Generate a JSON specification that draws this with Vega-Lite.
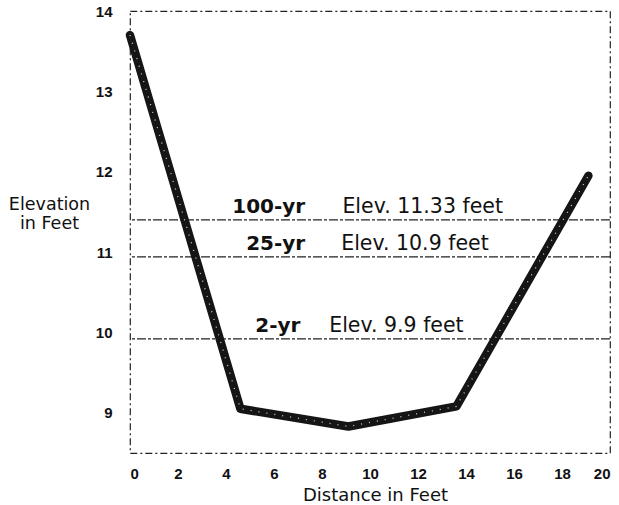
{
  "$schema": "https://vega.github.io/schema/vega-lite/v6.json",
  "width": 480,
  "height": 442,
  "autosize": "none",
  "padding": {"left": 130, "top": 11, "right": 9, "bottom": 52},
  "background": "white",
  "config": {
    "view": {"stroke": "#222", "strokeDash": [7, 3, 2, 3], "strokeWidth": 1.2},
    "axis": {"grid": false, "domain": false, "ticks": false, "labelFont": "Liberation Sans", "labelFontWeight": "bold", "labelColor": "#111", "labelFontSize": 15, "titleFont": "DejaVu Sans", "titleFontWeight": "normal", "titleColor": "#111"}
  },
  "datasets": {
    "profile": [
      {"distance": 0, "elevation": 13.7},
      {"distance": 4.6, "elevation": 9.05},
      {"distance": 9.1, "elevation": 8.83},
      {"distance": 13.6, "elevation": 9.08},
      {"distance": 19.1, "elevation": 11.95}
    ],
    "floods": [
      {"period": "100-yr", "elev": 11.4, "boldX": 7.3, "elevX": 8.85, "label": "Elev. 11.33 feet"},
      {"period": "25-yr", "elev": 10.94, "boldX": 7.3, "elevX": 8.8, "label": "Elev. 10.9 feet"},
      {"period": "2-yr", "elev": 9.92, "boldX": 7.1, "elevX": 8.3, "label": "Elev. 9.9 feet"}
    ]
  },
  "layer": [
    {
      "data": {"name": "floods"},
      "mark": {"type": "rule", "color": "#222", "strokeWidth": 1.3, "strokeDash": [9, 2, 3, 2]},
      "encoding": {
        "y": {"field": "elev", "type": "quantitative", "scale": {"domain": [8.5, 14], "nice": false}}
      }
    },
    {
      "data": {"name": "profile"},
      "mark": {"type": "line", "color": "#151515", "strokeWidth": 8.5, "strokeCap": "round", "strokeJoin": "round"},
      "encoding": {
        "x": {"field": "distance", "type": "quantitative", "scale": {"domain": [0, 20], "nice": false},
          "axis": {"values": [0, 2, 4, 6, 8, 10, 12, 14, 16, 18, 20], "format": "d", "labelPadding": 13, "title": "Distance in Feet", "titleFontSize": 18, "titleX": 245, "titleY": 47, "titleBaseline": "alphabetic", "titleAlign": "center"}},
        "y": {"field": "elevation", "type": "quantitative", "scale": {"domain": [8.5, 14], "nice": false},
          "axis": {"values": [9, 10, 11, 12, 13, 14], "format": "d", "labelPadding": 18, "title": ["Elevation", "in Feet"], "titleAngle": 0, "titleFontSize": 17.5, "titleLineHeight": 19, "titleX": -81, "titleY": 198, "titleAlign": "center", "titleBaseline": "alphabetic"}}
      }
    },
    {
      "data": {"name": "profile"},
      "mark": {"type": "line", "color": "white", "strokeWidth": 1.3, "strokeDash": [1, 7], "opacity": 0.8},
      "encoding": {
        "x": {"field": "distance", "type": "quantitative"},
        "y": {"field": "elevation", "type": "quantitative"}
      }
    },
    {
      "data": {"name": "floods"},
      "mark": {"type": "text", "font": "DejaVu Sans", "fontWeight": "bold", "fontSize": 20, "align": "right", "baseline": "alphabetic", "dy": -7, "color": "#111"},
      "encoding": {
        "x": {"field": "boldX", "type": "quantitative"},
        "y": {"field": "elev", "type": "quantitative"},
        "text": {"field": "period"}
      }
    },
    {
      "data": {"name": "floods"},
      "mark": {"type": "text", "font": "DejaVu Sans", "fontSize": 20.5, "align": "left", "baseline": "alphabetic", "dy": -7, "color": "#111"},
      "encoding": {
        "x": {"field": "elevX", "type": "quantitative"},
        "y": {"field": "elev", "type": "quantitative"},
        "text": {"field": "label"}
      }
    }
  ]
}
